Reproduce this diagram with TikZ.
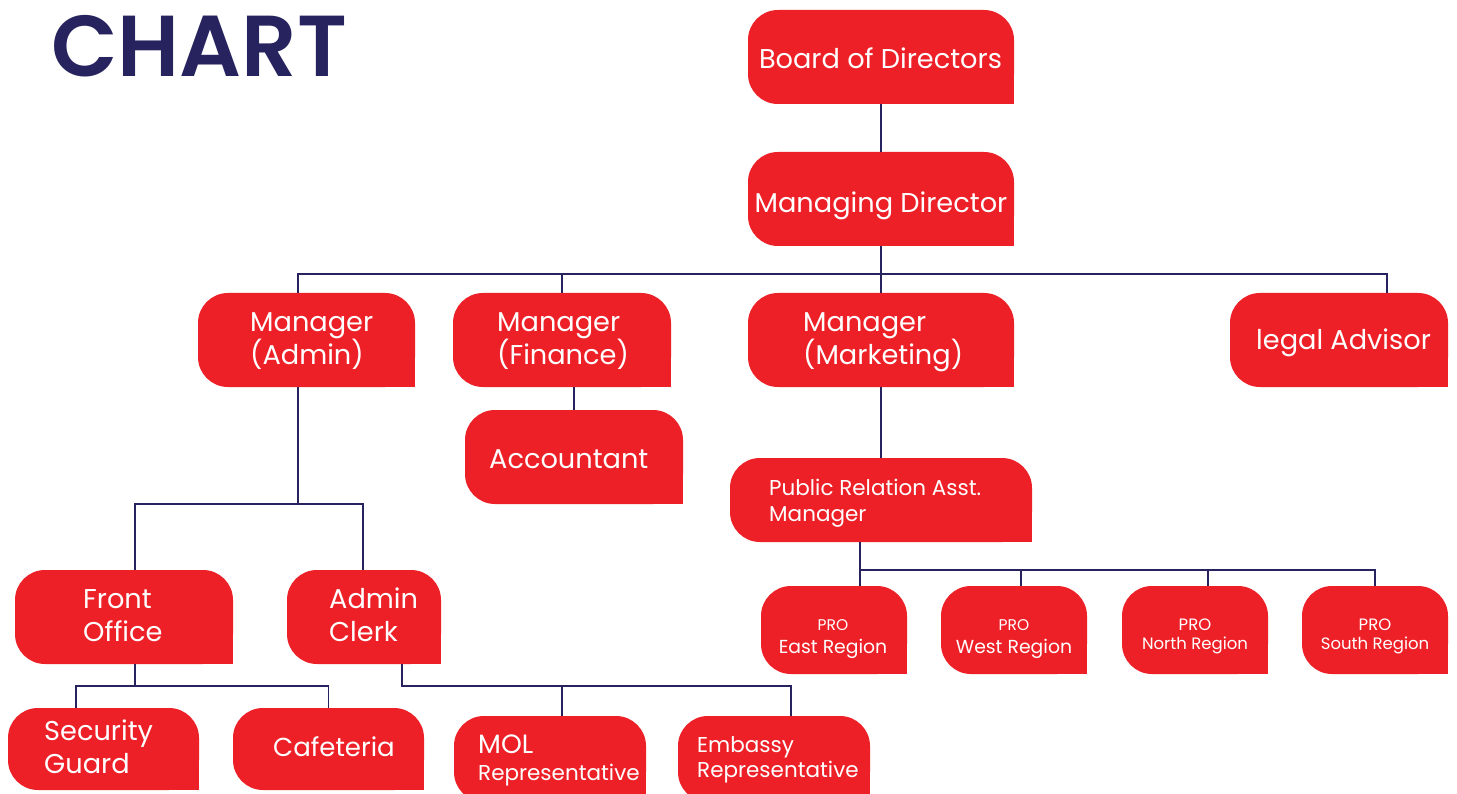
\documentclass[tikz,border=0pt]{standalone}
\usepackage{fontspec}
\setmainfont{Poppins}
\newfontfamily\titlefont{Poppins}[UprightFont=* SemiBold]
\usetikzlibrary{backgrounds}
\definecolor{boxred}{RGB}{238,32,39}
\definecolor{navy}{RGB}{39,35,95}
\tikzset{
  box/.style 2 args={fill=boxred, rounded corners=30pt, inner sep=0pt,
    minimum width=#1pt, minimum height=#2pt},
  txt/.style={text=white, align=left, inner sep=0pt, anchor=base west},
  ctxt/.style={text=white, align=center, inner sep=0pt, anchor=base},
  conn/.style={draw=navy, line width=1.8pt},
  bigtxt/.style={font=\fontsize{27.2}{33}\selectfont},
}
\newcommand{\sqcorner}[1]{%
  \begin{scope}[on background layer]
    \fill[boxred] (#1.center) rectangle (#1.south east);
  \end{scope}}
\begin{document}
\begin{tikzpicture}[x=1pt,y=-1pt]
\begin{scope}[on background layer]
  \fill[white] (0,0) rectangle (1457,794);
\end{scope}
\useasboundingbox (0,0) rectangle (1457,794);
\clip (0,0) rectangle (1457,794);

\node[anchor=base west, inner sep=0pt, text=navy, font=\fontsize{86.5}{86}\titlefont] (title) at (51,77) {CHART};

% boxes
\node[box={266}{94}] (bd) at (881,57) {}; \sqcorner{bd}
\node[box={266}{94}] (md) at (881,199) {}; \sqcorner{md}
\node[box={217}{94}] (ma) at (306.5,340) {}; \sqcorner{ma}
\node[box={218}{94}] (mf) at (562,340) {}; \sqcorner{mf}
\node[box={266}{94}] (mk) at (881,340) {}; \sqcorner{mk}
\node[box={218}{94}] (la) at (1339,340) {}; \sqcorner{la}
\node[box={218}{94}] (acc) at (574,457) {}; \sqcorner{acc}
\node[box={302}{84}] (pr) at (881,500) {}; \sqcorner{pr}
\node[box={146}{88}] (pe) at (834,630) {}; \sqcorner{pe}
\node[box={146}{88}] (pw) at (1014,630) {}; \sqcorner{pw}
\node[box={146}{88}] (pn) at (1195,630) {}; \sqcorner{pn}
\node[box={146}{88}] (ps) at (1375,630) {}; \sqcorner{ps}
\node[box={218}{94}] (fo) at (124,617) {}; \sqcorner{fo}
\node[box={154}{94}] (ac) at (364,617) {}; \sqcorner{ac}
\node[box={191}{82}] (sg) at (103.5,749) {}; \sqcorner{sg}
\node[box={191}{82}] (cf) at (328.5,749) {}; \sqcorner{cf}
\node[box={192}{86}] (mol) at (550,759) {}; \sqcorner{mol}
\node[box={192}{86}] (emb) at (774,759) {}; \sqcorner{emb}

% texts (multi-line nodes: base = last line's baseline)
\node[ctxt, bigtxt] (bd-t) at (880.5,69) {Board of Directors};
\node[ctxt, bigtxt] (md-t) at (881,213) {Managing Director};
\node[txt, bigtxt] (ma-t) at (250,365) {Manager\\(Admin)};
\node[txt, bigtxt] (mf-t) at (497,365) {Manager\\(Finance)};
\node[txt, bigtxt] (mk-t) at (803,365) {Manager\\(Marketing)};
\node[txt, bigtxt] (la-t) at (1256,350) {legal Advisor};
\node[txt, bigtxt] (acc-t) at (489,468) {Accountant};
\node[txt, font=\fontsize{21.5}{26}\selectfont] (pr-t) at (769,521) {Public Relation Asst.\\Manager};
\node[ctxt, font=\fontsize{18.8}{23}\selectfont] (pe-t) at (833,653) {{\fontsize{15.5}{23}\selectfont PRO}\\East Region};
\node[ctxt, font=\fontsize{18.8}{23}\selectfont] (pw-t) at (1014,653) {{\fontsize{15.5}{23}\selectfont PRO}\\West Region};
\node[ctxt, font=\fontsize{16.5}{19}\selectfont] (pn-t) at (1195,649) {PRO\\North Region};
\node[ctxt, font=\fontsize{16.5}{19}\selectfont] (ps-t) at (1375,649) {PRO\\South Region};
\node[txt, bigtxt] (fo-t) at (83,641) {Front\\Office};
\node[txt, bigtxt] (ac-t) at (329,641) {Admin\\Clerk};
\node[txt, bigtxt] (sg-t) at (44,773) {Security\\Guard};
\node[txt, font=\fontsize{26}{33}\selectfont] (cf-t) at (273,756) {Cafeteria};
\node[txt, font=\fontsize{21.5}{27}\selectfont] (mol-t) at (478,780) {{\fontsize{26.5}{27}\selectfont MOL}\\Representative};
\node[txt, font=\fontsize{21.5}{25}\selectfont] (emb-t) at (697,777) {Embassy\\Representative};

% connectors
\draw[conn] (bd.south) -- (md.north);
\draw[conn] (md.south) -- ++(0,28) coordinate (j1);
\coordinate (maT) at ([xshift=-8.5pt]ma.north);
\coordinate (laT) at ([xshift=48pt]la.north);
\draw[conn] (maT) |- (j1) -| (laT);
\draw[conn] (mf.north) -- (mf.north |- j1);
\draw[conn] (mk.north) -- (j1);
\coordinate (accT) at (acc.north);
\draw[conn] (accT) -- (accT |- mf.south);
\coordinate (maB) at ([xshift=-8.5pt]ma.south);
\coordinate (j2) at ([yshift=-117pt]maB);
\draw[conn] (maB) -- (j2);
\coordinate (foT) at ([xshift=11pt]fo.north);
\coordinate (acT) at ([xshift=-1pt]ac.north);
\draw[conn] (foT) |- (j2) -| (acT);
\draw[conn] (mk.south) -- (pr.north);
\coordinate (prB) at ([xshift=-21pt]pr.south);
\coordinate (j3) at ([yshift=-28pt]prB);
\draw[conn] (prB) -- (j3);
\coordinate (peT) at ([xshift=26pt]pe.north);
\coordinate (pwT) at ([xshift=7pt]pw.north);
\coordinate (pnT) at ([xshift=13pt]pn.north);
\coordinate (psT) at (ps.north);
\draw[conn] (peT) |- (j3) -| (psT);
\draw[conn] (pwT) -- (pwT |- j3);
\draw[conn] (pnT) -- (pnT |- j3);
\coordinate (foB) at ([xshift=11pt]fo.south);
\coordinate (j4) at ([yshift=-22pt]foB);
\draw[conn] (foB) -- (j4);
\coordinate (sgT) at ([xshift=-27.5pt]sg.north);
\coordinate (cfT) at (cf.north);
\draw[conn] (sgT) |- (j4) -| (cfT);
\coordinate (acB) at ([xshift=38pt]ac.south);
\coordinate (j5) at ([yshift=-22pt]acB);
\coordinate (molT) at ([xshift=12pt]mol.north);
\coordinate (embT) at ([xshift=17pt]emb.north);
\draw[conn] (acB) |- (embT |- j5) -- (embT);
\draw[conn] (molT) -- (molT |- j5);
\end{tikzpicture}
\end{document}
